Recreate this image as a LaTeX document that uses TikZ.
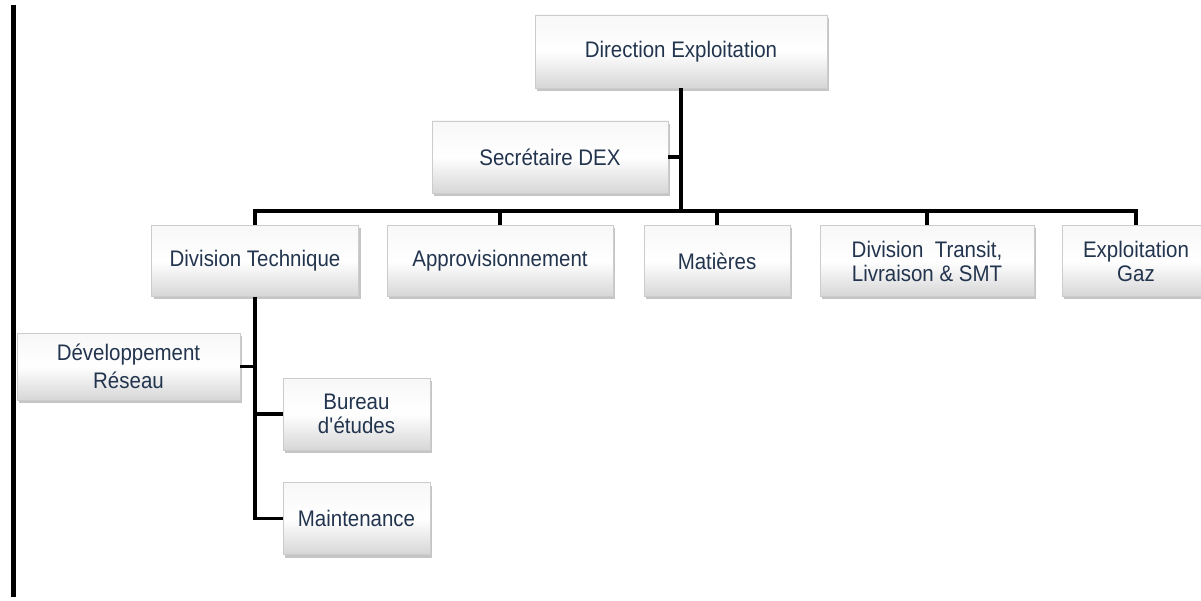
\documentclass[tikz,border=0pt]{standalone}
\usepackage{fontspec}
\setmainfont{Liberation Sans}[FakeStretch=0.91]
\usetikzlibrary{shadows}
\definecolor{txt}{HTML}{22344E}
\tikzset{
  orgbox/.style={rectangle, draw=gray!40, line width=0.6pt,
    top color=gray!6, bottom color=gray!32, middle color=white,
    drop shadow={shadow xshift=2pt, shadow yshift=-3pt, opacity=0.45, fill=gray},
    text=txt, align=center, inner sep=2pt,
    font=\fontsize{22.5}{24}\selectfont},
  link/.style={line width=3.8pt, black},
}
\begin{document}
\begin{tikzpicture}[x=1pt,y=-1pt]
\useasboundingbox (0,0) rectangle (1201,601);
\fill[white] (0,0) rectangle (1201,601);
% left border line
\draw[line width=5pt] (13,5) -- (13,597);

\node[orgbox, minimum width=292pt, minimum height=73pt] (de) at (681,51.5) {Direction Exploitation};
\node[orgbox, minimum width=236pt, minimum height=72pt] (sec) at (550,157) {Secrétaire DEX};

\node[orgbox, minimum width=207pt, minimum height=71pt] (dt) at (255,261) {Division Technique};
\node[orgbox, minimum width=226pt, minimum height=71pt] (app) at (500,261) {Approvisionnement};
\node[orgbox, minimum width=146pt, minimum height=71pt] (mat) at (717,261) {Matières};
\node[orgbox, minimum width=214pt, minimum height=71pt] (trans) at (927,261) {Division\ \ Transit,\\Livraison \& SMT};
\node[orgbox, minimum width=148pt, minimum height=71pt] (gaz) at (1136,261) {Exploitation\\Gaz};

\node[orgbox, minimum width=223pt, minimum height=67pt] (dev) at (128.5,366.5) {Développement\\[4pt]Réseau};
\node[orgbox, minimum width=147pt, minimum height=72pt] (bur) at (356.5,414) {Bureau\\d\textquotesingle études};
\node[orgbox, minimum width=147pt, minimum height=72pt] (mai) at (356.5,518.5) {Maintenance};

\coordinate (bus) at (681,211);
% trunk
\draw[link] (de.south) -- (de.south |- bus);
\draw[link] (sec.east) -- (sec.east -| de.south);
% bus
\draw[link] ([xshift=-1.9pt]dt.north |- bus) -- ([xshift=1.9pt]gaz.north |- bus);
\draw[link] (dt.north |- bus) -- (dt.north);
\draw[link] (app.north |- bus) -- (app.north);
\draw[link] (mat.north |- bus) -- (mat.north);
\draw[link] (trans.north |- bus) -- (trans.north);
\draw[link] (gaz.north |- bus) -- (gaz.north);
% division technique subtree
\draw[link] (dt.south) -- (dt.south |- mai.west) -- (mai.west);
\draw[link] (dev.east) -- (dev.east -| dt.south);
\draw[link] (bur.west) -- (bur.west -| dt.south);
\end{tikzpicture}
\end{document}
